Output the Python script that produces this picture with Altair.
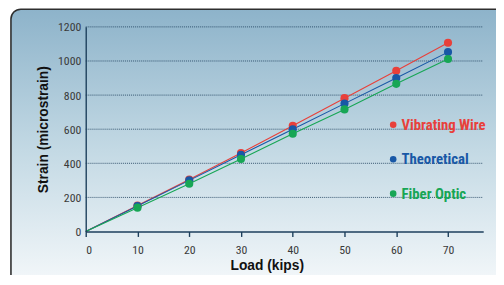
import altair as alt
import pandas as pd

loads = [0, 10, 20, 30, 40, 50, 60, 70]
vibrating_wire = [0, 152, 305, 460, 620, 782, 943, 1107]
theoretical = [0, 150, 300, 450, 600, 750, 900, 1052]
fiber_optic = [0, 140, 280, 425, 573, 716, 866, 1012]

series = ["Vibrating Wire", "Theoretical", "Fiber Optic"]
colors = ["#e8403a", "#1858a6", "#17a655"]
y_ticks = [0, 200, 400, 600, 800, 1000, 1200]
x_ticks = [0, 10, 20, 30, 40, 50, 60, 70]

rows = []
for name, vals in zip(series, [vibrating_wire, theoretical, fiber_optic]):
    for l, v in zip(loads, vals):
        rows.append({"load": l, "strain": v, "series": name})
df = pd.DataFrame(rows)
grid_df = pd.DataFrame({"strain": y_ticks[1:]})

NARROW = "Liberation Sans Narrow, Roboto Condensed, Arial Narrow, Roboto, sans-serif"
BOLD = "Liberation Sans, Arial, sans-serif"

W, H = 404, 208

label_color_expr = " : ".join(
    f"datum.value == '{s}' ? '{c}'" for s, c in zip(series[:-1], colors[:-1])
) + f" : '{colors[-1]}'"

bg = alt.Chart(alt.Data(values=[{}])).mark_rect(
    cornerRadius=10,
    stroke="#2e2e2e",
    strokeWidth=1.6,
    clip=False,
    fill=alt.Gradient(
        gradient="linear",
        stops=[
            alt.GradientStop(color="#8db3ca", offset=0),
            alt.GradientStop(color="#c3d9e4", offset=0.5),
            alt.GradientStop(color="#f6f9fb", offset=1),
        ],
        x1=0, x2=0, y1=0, y2=1,
    ),
).encode(
    x=alt.value(-76), x2=alt.value(W + 40),
    y=alt.value(-18), y2=alt.value(H + 60),
)

yscale = alt.Scale(domain=[0, 1200], nice=False)
x = alt.X("load:Q", scale=alt.Scale(domain=[0, 76.8], nice=False),
          axis=alt.Axis(values=x_ticks, title="Load (kips)", zindex=1, format="d",
                        grid=False, tickSize=5, labelPadding=8, titlePadding=4,
                        titleX=184))
y = alt.Y("strain:Q", scale=yscale,
          axis=alt.Axis(values=y_ticks, title="Strain (microstrain)", zindex=1, format="d",
                        labelOverlap=False,
                        grid=False, ticks=False, labelPadding=5, titlePadding=7))

legend = alt.Legend(
    title=None, orient="none", legendX=305, legendY=92, zindex=1,
    symbolType="circle", symbolSize=45, symbolStrokeWidth=0,
    labelFont=NARROW, labelFontSize=15, labelFontWeight="bold",
    labelOffset=1, rowPadding=19,
    labelColor=alt.ExprRef(expr=label_color_expr),
)
color = alt.Color("series:N", scale=alt.Scale(domain=series, range=colors), legend=legend)

grid = alt.Chart(grid_df).mark_rule(
    color="#1d3f5c", strokeDash=[1, 1], strokeWidth=1, opacity=0.85
).encode(y=y, x=alt.value(0), x2=alt.value(W))

lines = alt.Chart(df).mark_line(strokeWidth=1.1).encode(
    x=x, y=y, color=color, detail="series:N",
)

points = alt.Chart(df).transform_filter("datum.load > 0").mark_circle(size=68, opacity=1).encode(
    x=x, y=y, color=color,
)

chart = alt.layer(bg, grid, lines, points).properties(
    width=W, height=H,
    autosize=alt.AutoSizeParams(type="none"),
    padding={"left": 79, "top": 17, "right": 13, "bottom": 42},
    background="white",
).configure_view(stroke=None).configure_axis(
    domainColor="#1d3f5c", domainWidth=1.4, tickColor="#1d3f5c", tickWidth=1.4,
    labelFont=NARROW, labelFontSize=12, labelColor="#3a3a3a",
    titleFont=BOLD, titleFontSize=14, titleFontWeight="bold", titleColor="#111",
)

chart.save("out.html", embed_options={"renderer": "svg", "actions": False})
